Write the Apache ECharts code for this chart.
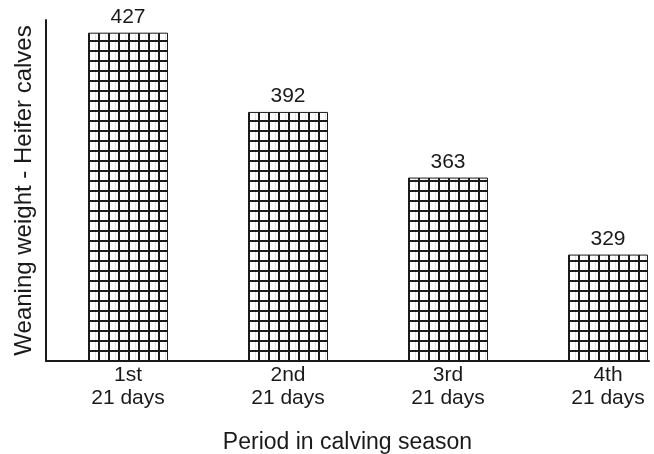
<!DOCTYPE html>
<html>
<head>
<meta charset="utf-8">
<script src="https://cdn.jsdelivr.net/npm/echarts@6/dist/echarts.min.js"></script>
<style>html,body{margin:0;padding:0;background:#fff}#c{width:654px;height:454px}</style>
</head>
<body>
<div id="c"></div>
<script>
const categories = ['1st\n21 days', '2nd\n21 days', '3rd\n21 days', '4th\n21 days'];
const weights = [427, 392, 363, 329];
const positions = [0, 1, 2, 3];

function makePattern() {
  const cv = document.createElement('canvas');
  cv.width = 10; cv.height = 10;
  const g = cv.getContext('2d');
  g.fillStyle = '#fff'; g.fillRect(0, 0, 10, 10);
  g.fillStyle = '#e4e4e4';
  g.fillRect(5, 0, 1, 10);
  g.fillStyle = '#1a1a1a';
  g.fillRect(8, 0, 2, 10);
  g.fillRect(0, 0, 10, 2);
  return cv;
}

const chart = echarts.init(document.getElementById('c'), null, {renderer: 'canvas'});
const font = 'Liberation Sans, Arial, sans-serif';
chart.setOption({
  animation: false,
  backgroundColor: '#fff',
  textStyle: {fontFamily: font, color: '#1a1a1a'},
  grid: {left: 46, right: 5, top: 20, bottom: 93, containLabel: false, outerBoundsMode: 'none'},
  xAxis: {
    type: 'value',
    min: -0.5125, max: 3.25625,
    splitLine: {show: false},
    axisTick: {show: false},
    axisLine: {show: true, onZero: false, lineStyle: {color: '#1a1a1a', width: 2}},
    axisLabel: {
      customValues: positions,
      formatter: v => categories[Math.round(v)],
      fontSize: 21, color: '#1a1a1a', fontFamily: font, lineHeight: 23, margin: 3
    },
    name: 'Period in calving season',
    nameLocation: 'middle',
    nameGap: 70,
    nameTextStyle: {fontSize: 23, color: '#1a1a1a', fontFamily: font}
  },
  yAxis: {
    type: 'value',
    min: 282, max: 432.6,
    splitLine: {show: false},
    axisTick: {show: false},
    axisLabel: {show: false},
    axisLine: {show: true, onZero: false, lineStyle: {color: '#1a1a1a', width: 2}},
    name: 'Weaning weight - Heifer calves',
    nameLocation: 'middle',
    nameGap: 10,
    nameRotate: 90,
    nameTextStyle: {fontSize: 24, color: '#1a1a1a', fontFamily: font}
  },
  series: [{
    type: 'bar',
    barWidth: 80,
    data: positions.map((p, i) => [p, weights[i]]),
    itemStyle: {
      color: {image: makePattern(), repeat: 'repeat'},
      borderColor: '#1a1a1a', borderWidth: 1
    },
    label: {show: true, position: 'top', distance: 5, fontSize: 21, color: '#1a1a1a', fontFamily: font}
  }]
});
</script>
</body>
</html>
